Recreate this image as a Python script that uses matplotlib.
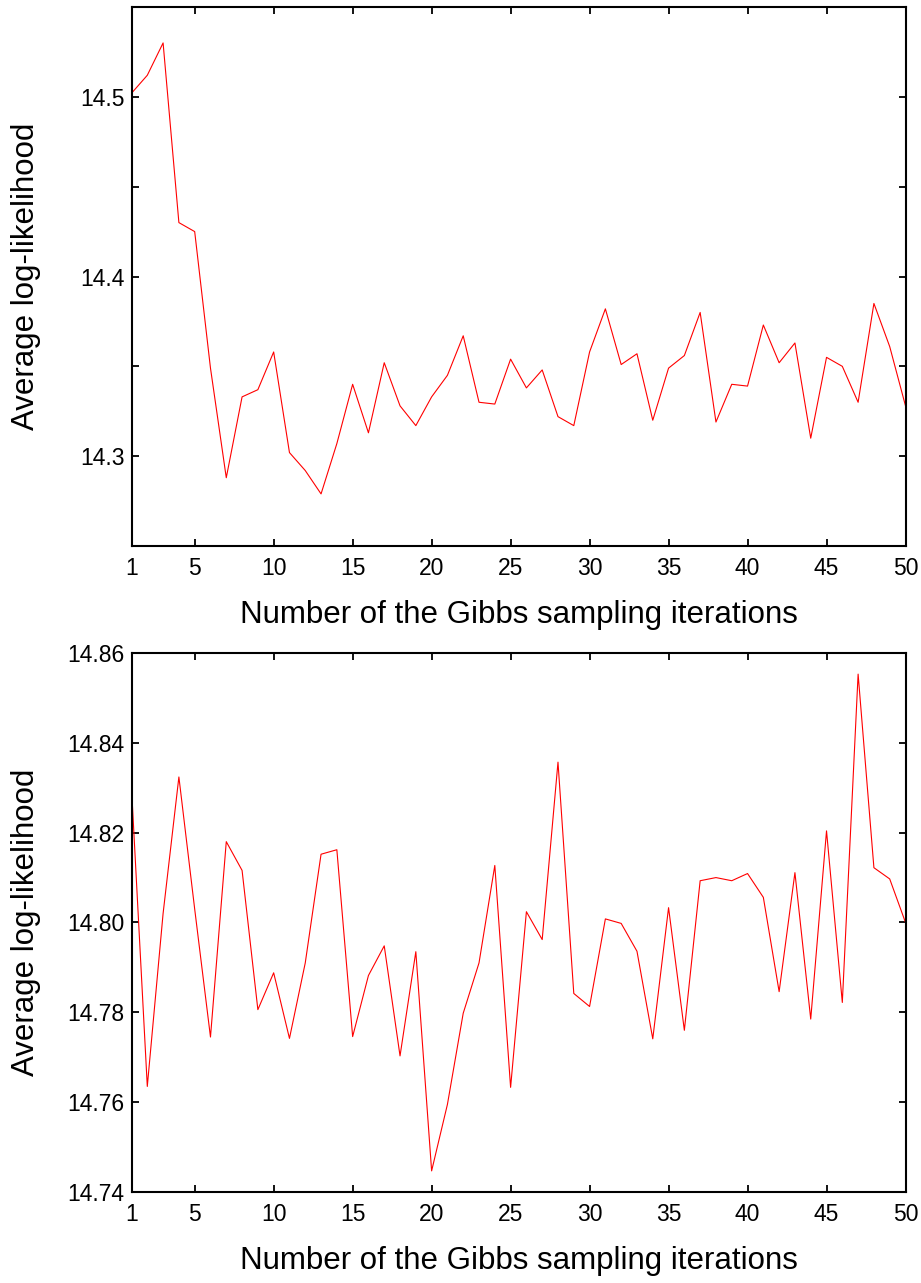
import matplotlib
matplotlib.use("Agg")
import matplotlib.pyplot as plt
from matplotlib.ticker import FixedLocator, FuncFormatter

plt.rcParams['font.family'] = ['Liberation Sans', 'DejaVu Sans']

iterations = list(range(1, 51))

top_values = [
    14.502, 14.512, 14.530, 14.430, 14.425, 14.349, 14.288, 14.333, 14.337, 14.358,
    14.302, 14.292, 14.279, 14.307, 14.340, 14.313, 14.352, 14.328, 14.317, 14.333,
    14.345, 14.367, 14.330, 14.329, 14.354, 14.338, 14.348, 14.322, 14.317, 14.358,
    14.382, 14.351, 14.357, 14.320, 14.349, 14.356, 14.380, 14.319, 14.340, 14.339,
    14.373, 14.352, 14.363, 14.310, 14.355, 14.350, 14.330, 14.385, 14.361, 14.328,
]

bottom_values = [
    14.830, 14.7635, 14.802, 14.8324, 14.803, 14.7745, 14.818, 14.8116, 14.7806, 14.7888,
    14.7742, 14.791, 14.8152, 14.8162, 14.7746, 14.7882, 14.7948, 14.7703, 14.7935, 14.7447,
    14.7595, 14.7798, 14.791, 14.8127, 14.7633, 14.8024, 14.7962, 14.8357, 14.7842, 14.7813,
    14.8008, 14.7998, 14.7936, 14.7741, 14.8033, 14.776, 14.8093, 14.810, 14.8093, 14.8109,
    14.8056, 14.7846, 14.8111, 14.7785, 14.8204, 14.7822, 14.8553, 14.8122, 14.8097, 14.800,
]

x_ticks = [1, 5, 10, 15, 20, 25, 30, 35, 40, 45, 50]
top_yticks = [14.30, 14.35, 14.40, 14.45, 14.50]
top_ylabels_at = [14.3, 14.4, 14.5]
bottom_yticks = [14.74, 14.76, 14.78, 14.80, 14.82, 14.84, 14.86]

xlabel = "Number of the Gibbs sampling iterations"
ylabel = "Average log-likelihood"

W, H = 921, 1283
fig = plt.figure(figsize=(W / 100, H / 100), dpi=100)

def make_axes(top, bottom):
    left, right = 131.5, 905.5
    return fig.add_axes([left / W, 1 - bottom / H, (right - left) / W, (bottom - top) / H])

ax1 = make_axes(7, 546)
ax2 = make_axes(653, 1192)

def style(ax):
    for s in ax.spines.values():
        s.set_linewidth(1.5)
    ax.tick_params(direction='in', length=5, width=1.3, top=True, right=True,
                   labelsize=16.5)
    ax.tick_params(axis='x', pad=8)
    ax.tick_params(axis='y', pad=5)
    ax.set_xlim(1, 50)
    ax.xaxis.set_major_locator(FixedLocator(x_ticks))
    ax.set_xlabel(xlabel, fontsize=22.5)
    ax.set_ylabel(ylabel, fontsize=22.5)
    ax.xaxis.set_label_coords(0.5, -0.100)
    ax.yaxis.set_label_coords(-0.117, 0.5)

ax1.plot(iterations, top_values, color='#ff0000', linewidth=0.8)
ax1.set_ylim(14.25, 14.55)
ax1.yaxis.set_major_locator(FixedLocator(top_yticks))
ax1.yaxis.set_major_formatter(FuncFormatter(
    lambda v, p: f"{v:.1f}" if any(abs(v - t) < 1e-6 for t in top_ylabels_at) else ""))
style(ax1)

ax2.plot(iterations, bottom_values, color='#ff0000', linewidth=0.8)
ax2.set_ylim(14.74, 14.86)
ax2.yaxis.set_major_locator(FixedLocator(bottom_yticks))
ax2.yaxis.set_major_formatter(FuncFormatter(lambda v, p: f"{v:.2f}"))
style(ax2)

fig.savefig("out.png", dpi=100)
